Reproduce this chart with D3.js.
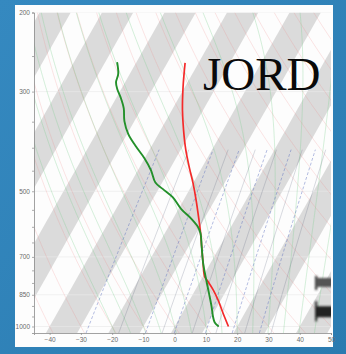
<!DOCTYPE html>
<html>
<head>
<meta charset="utf-8">
<script src="https://cdn.jsdelivr.net/npm/d3@7/dist/d3.min.js"></script>
<style>
  html, body { margin: 0; padding: 0; background: #2e83b8; }
  svg { display: block; }
</style>
</head>
<body>
<script>
// Station sounding: temperature and dew point (°C) at pressure levels (hPa)
const tempPressure = [1000, 933, 873, 829, 795, 775, 722, 664, 615, 579, 523, 479, 444, 405, 365, 330, 293, 259];
const tempValues   = [17.2, 13.0, 9.1, 5.7, 2.6, 0.6, -2.4, -5.8, -8.9, -11.5, -16.0, -20.1, -23.9, -28.3, -32.7, -36.6, -40.6, -44.3];
const dewPressure  = [997, 980, 951, 903, 844, 788, 722, 664, 620, 600, 576, 548, 516, 494, 478, 449, 422, 398, 373, 349, 327, 309, 296, 286, 274, 259];
const dewValues    = [13.8, 12.1, 10.5, 8.2, 5.0, 1.7, -2.4, -5.8, -8.6, -10.6, -14.1, -19.1, -23.9, -28.7, -32.2, -35.8, -40.1, -44.8, -49.6, -53.2, -55.7, -58.7, -61.3, -62.9, -63.7, -66.0];

// Axis ticks
const tempTicks      = [-40, -30, -20, -10, 0, 10, 20, 30, 40, 50];
const pressureTicks  = [200, 250, 300, 350, 400, 450, 500, 550, 600, 650, 700, 750, 800, 850, 900, 950, 1000];
const pressureLabels = [200, 300, 500, 700, 850, 1000];

// Background line families
const dryAdiabatTheta = d3.range(-50, 161, 10);    // potential temperature, °C
const moistStartTemps = d3.range(-20, 46, 5);      // starting temperature at 1000 hPa, °C
const mixingDashed    = [0.4, 2, 4, 8, 14, 24];    // g/kg
const mixingSolid     = [1, 3, 6, 10, 18, 30];     // g/kg
const windPressure    = [800, 925];
const stationName     = "JORD";

const W = 346, H = 354;
const plot = { left: 34, right: 331, top: 12.5, bottom: 333 };
const pBottom = 1034, pTop = 200;

const y = d3.scaleLog().domain([pBottom, pTop]).range([plot.bottom, plot.top]);
const x = d3.scaleLinear().domain([-45, 50]).range([plot.left, plot.right]);
const SKEW = 0.565;
const sx = (T, p) => x(T) + SKEW * (y(1000) - y(p));

const svg = d3.select("body").append("svg").attr("width", W).attr("height", H);
const defs = svg.append("defs");

const grad = defs.append("linearGradient").attr("id", "bg").attr("x1", 0).attr("y1", 0).attr("x2", 1).attr("y2", 1);
grad.append("stop").attr("offset", 0).attr("stop-color", "#3589c0");
grad.append("stop").attr("offset", 1).attr("stop-color", "#2a7bb0");

defs.append("clipPath").attr("id", "plotClip").append("rect")
  .attr("x", plot.left).attr("y", plot.top)
  .attr("width", plot.right - plot.left).attr("height", plot.bottom - plot.top);

defs.append("filter").attr("id", "soft").attr("x", "-50%").attr("y", "-50%").attr("width", "200%").attr("height", "200%")
  .append("feGaussianBlur").attr("stdDeviation", 0.9);

svg.append("rect").attr("width", W).attr("height", H).attr("fill", "url(#bg)");
svg.append("rect").attr("x", 15).attr("y", 5).attr("width", 318).attr("height", 342).attr("fill", "#fdfdfd");

const g = svg.append("g").attr("clip-path", "url(#plotClip)");

// Shaded 10 °C isotherm bands
const bandStarts = d3.range(-120, 60, 20);
g.selectAll("polygon.band").data(bandStarts).join("polygon")
  .attr("class", "band")
  .attr("fill", "#dbdbdb")
  .attr("points", t => [
    [sx(t, pBottom), y(pBottom)], [sx(t + 10, pBottom), y(pBottom)],
    [sx(t + 10, pTop), y(pTop)], [sx(t, pTop), y(pTop)]
  ].map(d => d.join(",")).join(" "));

// Isobars at labelled levels
g.selectAll("line.isobar").data(pressureLabels).join("line")
  .attr("x1", plot.left).attr("x2", plot.right)
  .attr("y1", d => y(d)).attr("y2", d => y(d))
  .attr("stroke", "#eaeaea").attr("stroke-width", 0.8).attr("opacity", 0.8);

const levels = d3.range(pBottom, pTop - 1, -5).concat([pTop]);
const line = d3.line().x(d => d[0]).y(d => d[1]);

// Dry adiabats
g.selectAll("path.dry").data(dryAdiabatTheta).join("path")
  .attr("fill", "none").attr("stroke", "#f08080").attr("stroke-width", 0.6).attr("opacity", 0.35)
  .attr("d", th => line(levels.map(p => {
    const T = (th + 273.15) * Math.pow(p / 1000, 0.2857) - 273.15;
    return [sx(T, p), y(p)];
  })));

// Moist (saturated) adiabats
const Rd = 287.04, Cpd = 1005.7, Lv = 2.501e6, eps = 0.622;
const es = Tc => 6.112 * Math.exp(17.67 * Tc / (Tc + 243.5));
function moistRate(TK, p) {
  const e = es(TK - 273.15);
  const rs = eps * e / (p - e);
  return (1 / p) * (Rd * TK + Lv * rs) / (Cpd + (Lv * Lv * rs * eps) / (Rd * TK * TK));
}
function moistPath(T0) {
  const pts = [];
  let TK = T0 + 273.15, p = 1000;
  let TKd = TK;
  const down = [];
  for (let pp = 1000; pp < pBottom; pp += 2) { TKd += moistRate(TKd, pp) * 2; down.push([pp + 2, TKd]); }
  down.reverse().forEach(d => pts.push([sx(d[1] - 273.15, d[0]), y(d[0])]));
  pts.push([sx(T0, 1000), y(1000)]);
  while (p > pTop) {
    const dp = -2;
    const k1 = moistRate(TK, p), k2 = moistRate(TK + k1 * dp / 2, p + dp / 2);
    TK += k2 * dp; p += dp;
    pts.push([sx(TK - 273.15, p), y(p)]);
  }
  return line(pts);
}
g.selectAll("path.moist").data(moistStartTemps).join("path")
  .attr("fill", "none").attr("stroke", "#7fd08f").attr("stroke-width", 0.6).attr("opacity", 0.55)
  .attr("d", moistPath);

// Mixing ratio lines
const mixLevels = d3.range(pBottom, 399, -10);
const dewFromW = (w, p) => {
  const wk = w / 1000, e = p * wk / (eps + wk), l = Math.log(e / 6.112);
  return 243.5 * l / (17.67 - l);
};
g.selectAll("path.mixd").data(mixingDashed).join("path")
  .attr("fill", "none").attr("stroke", "#5a6fc0").attr("stroke-width", 0.7)
  .attr("stroke-dasharray", "3,2").attr("opacity", 0.65)
  .attr("d", w => line(mixLevels.map(p => [sx(dewFromW(w, p), p), y(p)])));
g.selectAll("path.mixs").data(mixingSolid).join("path")
  .attr("fill", "none").attr("stroke", "#4a5070").attr("stroke-width", 0.6).attr("opacity", 0.35)
  .attr("d", w => line(mixLevels.map(p => [sx(dewFromW(w, p), p), y(p)])));

// Wind symbols at right edge
const wind = g.selectAll("g.wind").data(windPressure).join("g")
  .attr("filter", "url(#soft)")
  .attr("transform", p => `translate(${plot.right - 16},${y(p)})`);
wind.append("rect").attr("x", 0).attr("y", (p, i) => i ? -10 : -7).attr("width", 2.2)
  .attr("height", (p, i) => i ? 20 : 14).attr("fill", "#333");
wind.append("rect").attr("x", 1).attr("y", -5).attr("width", 17)
  .attr("height", (p, i) => i ? 11 : 9).attr("fill", (p, i) => i ? "#222" : "#555");

// Sounding profiles
const profile = d3.line().x(d => sx(d[1], d[0])).y(d => y(d[0])).curve(d3.curveCatmullRom.alpha(0.5));
g.append("path").datum(d3.zip(tempPressure, tempValues))
  .attr("fill", "none").attr("stroke", "#f42a2a").attr("stroke-width", 1.7)
  .attr("stroke-linejoin", "round").attr("d", profile);
g.append("path").datum(d3.zip(dewPressure, dewValues))
  .attr("fill", "none").attr("stroke", "#23902a").attr("stroke-width", 1.9)
  .attr("stroke-linejoin", "round").attr("stroke-linecap", "round").attr("d", profile);

// Axes
const xAxis = svg.append("g").attr("transform", `translate(0,${plot.bottom})`)
  .call(d3.axisBottom(x).tickValues(tempTicks).tickSize(2).tickPadding(2));
const yAxis = svg.append("g").attr("transform", `translate(${plot.left},0)`)
  .call(d3.axisLeft(y).tickValues(pressureTicks).tickSize(2).tickPadding(2)
    .tickFormat(d => pressureLabels.includes(d) ? d : ""));
[xAxis, yAxis].forEach(a => {
  a.selectAll("path.domain").attr("stroke", "#8a8a8a").attr("stroke-width", 0.8);
  a.selectAll(".tick line").attr("stroke", "#8a8a8a").attr("stroke-width", 0.7);
  a.selectAll("text").attr("fill", "#6a6a6a").attr("font-family", "Liberation Sans, Arial, sans-serif").attr("font-size", 6.5);
});

// Station title
svg.append("text").attr("x", 203).attr("y", 90)
  .attr("font-family", "Liberation Serif, Times New Roman, serif").attr("font-size", 47)
  .attr("fill", "#0a0a0a").text(stationName);
</script>
</body>
</html>
